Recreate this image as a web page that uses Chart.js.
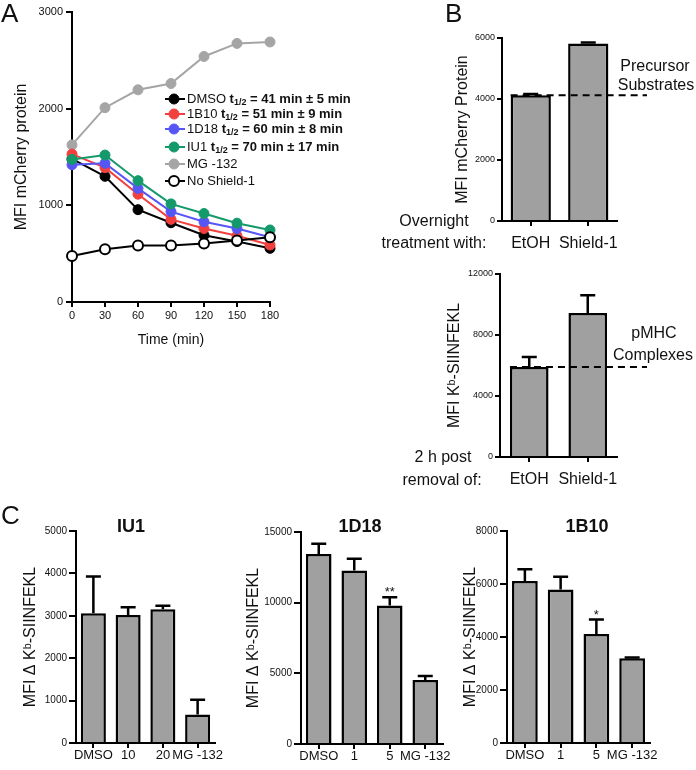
<!DOCTYPE html>
<html>
<head>
<meta charset="utf-8">
<script src="https://cdn.jsdelivr.net/npm/chart.js@4.4.1/dist/chart.umd.min.js"></script>
<style>
  body { margin: 0; background: #fff; }
  #fig { position: relative; width: 696px; height: 770px; overflow: hidden;
         font-family: Arial, "Liberation Sans", sans-serif; color: #111; }
  canvas, .lbl { position: absolute; }
  .lbl { white-space: nowrap; line-height: 1; }
  .panel { font-size: 26px; }
  .note { font-size: 16px; transform: translate(-50%, -50%); }
  .ttl { font-size: 18px; font-weight: bold; transform: translate(-50%, -50%); }
</style>
</head>
<body>
<div id="fig">
  <canvas id="chartA" width="360" height="355" style="left:0;top:0"></canvas>
  <canvas id="chartB1" width="316" height="260" style="left:380px;top:0"></canvas>
  <canvas id="chartB2" width="316" height="250" style="left:380px;top:250px"></canvas>
  <canvas id="chartC1" width="235" height="280" style="left:0;top:490px"></canvas>
  <canvas id="chartC2" width="232" height="280" style="left:231px;top:490px"></canvas>
  <canvas id="chartC3" width="236" height="280" style="left:460px;top:490px"></canvas>

  <div class="lbl panel" style="left:1px;top:0">A</div>
  <div class="lbl panel" style="left:445px;top:0">B</div>
  <div class="lbl panel" style="left:1px;top:502px">C</div>

  <div class="lbl note" style="left:655px;top:66px">Precursor</div>
  <div class="lbl note" style="left:656px;top:85px">Substrates</div>
  <div class="lbl note" style="left:434px;top:221px">Overnight</div>
  <div class="lbl note" style="left:434px;top:243px">treatment with:</div>
  <div class="lbl note" style="left:654px;top:333px">pMHC</div>
  <div class="lbl note" style="left:653px;top:355px">Complexes</div>
  <div class="lbl note" style="left:443px;top:457px">2 h post</div>
  <div class="lbl note" style="left:442px;top:480px">removal of:</div>

  <div class="lbl ttl" style="left:131px;top:526px">IU1</div>
  <div class="lbl ttl" style="left:360px;top:526px">1D18</div>
  <div class="lbl ttl" style="left:587px;top:526px">1B10</div>
</div>

<script>
// ---- data ----
const timePoints = [0, 30, 60, 90, 120, 150, 180];
const dmsoDecay = [1480, 1300, 955, 820, 690, 625, 555];
const b10Decay = [1530, 1390, 1115, 855, 760, 685, 590];
const d18Decay = [1420, 1435, 1175, 935, 830, 760, 670];
const iu1Decay = [1475, 1520, 1255, 1015, 915, 815, 745];
const mg132Decay = [1625, 2010, 2195, 2260, 2540, 2675, 2690];
const noShieldDecay = [475, 545, 585, 585, 605, 635, 670];
const decayNames = ['DMSO', '1B10', '1D18', 'IU1', 'MG -132', 'No Shield-1'];
const halfLives = ['41 min ± 5 min', '51 min ± 9 min', '60 min ± 8 min', '70 min ± 17 min', null, null];

const shieldGroups = ['EtOH', 'Shield-1'];
const precursorMean = [4120, 5820];
const precursorErr = [40, 30];
const pmhcMean = [5900, 9450];
const pmhcErr = [650, 1150];

const iu1Labels = ['DMSO', '10', '20', 'MG -132'];
const iu1Mean = [3060, 3020, 3155, 670];
const iu1Err = [865, 180, 80, 350];
const d18Labels = ['DMSO', '1', '5', 'MG -132'];
const d18Mean = [13440, 12280, 9800, 4535];
const d18Err = [730, 830, 590, 285];
const d18Stars = ['', '', '**', ''];
const b10Labels = ['DMSO', '1', '5', 'MG -132'];
const b10Mean = [6110, 5790, 4110, 3200];
const b10Err = [450, 480, 550, 30];
const b10Stars = ['', '', '*', ''];

const FONT = 'Arial, "Liberation Sans", sans-serif';
const INK = '#111';
const BAR_GRAY = '#a0a0a0';

function axisStyle(tickLen) {
  return {
    border: { display: true, color: '#000', width: 2 },
    grid: { display: true, drawOnChartArea: false, drawTicks: true, tickLength: tickLen,
            color: '#000', lineWidth: 2, offset: false }
  };
}

// error bars (one sided), significance stars and dashed reference line
const errorBars = {
  id: 'errorBars',
  afterDatasetsDraw(chart) {
    const { ctx, chartArea } = chart;
    const y = chart.scales.y;
    const ds = chart.data.datasets[0];
    const meta = chart.getDatasetMeta(0);
    ctx.save();
    ctx.strokeStyle = '#000';
    ctx.lineWidth = 2.5;
    meta.data.forEach((bar, i) => {
      const top = y.getPixelForValue(ds.data[i] + ds.errors[i]);
      ctx.beginPath();
      ctx.moveTo(bar.x, bar.y);
      ctx.lineTo(bar.x, top);
      ctx.moveTo(bar.x - 7.5, top);
      ctx.lineTo(bar.x + 7.5, top);
      ctx.stroke();
      if (ds.stars && ds.stars[i]) {
        ctx.fillStyle = INK;
        ctx.font = '13px ' + FONT;
        ctx.textAlign = 'center';
        ctx.textBaseline = 'alphabetic';
        ctx.fillText(ds.stars[i], bar.x, top - 1);
      }
    });
    if (ds.refLine != null) {
      const b0 = meta.data[0];
      const ry = y.getPixelForValue(ds.refLine);
      ctx.setLineDash([7, 5]);
      ctx.lineWidth = 2;
      ctx.beginPath();
      ctx.moveTo(b0.x - b0.width / 2, ry);
      ctx.lineTo(chartArea.right + 30, ry);
      ctx.stroke();
    }
    ctx.restore();
  }
};

function barChart(id, labels, means, errors, o) {
  return new Chart(document.getElementById(id), {
    type: 'bar',
    data: {
      labels,
      datasets: [{
        data: means, errors, stars: o.stars, refLine: o.refLine,
        backgroundColor: BAR_GRAY, borderColor: '#000', borderWidth: 2.5,
        categoryPercentage: 1, barPercentage: o.barPct
      }]
    },
    options: {
      responsive: false, animation: false, devicePixelRatio: 1,
      layout: { padding: o.pad },
      plugins: { legend: { display: false }, tooltip: { enabled: false } },
      scales: {
        x: {
          ...axisStyle(5),
          ticks: { font: { family: FONT, size: o.xFont }, color: INK, padding: o.xPad, maxRotation: 0, autoSkip: false },
          afterFit: s => { s.height = o.xHeight; }
        },
        y: {
          min: 0, max: o.yMax,
          ...axisStyle(o.yTick),
          ticks: { stepSize: o.yStep, font: { family: FONT, size: o.yFont }, color: INK, padding: 2,
                   callback: v => String(v) },
          title: { display: true, text: o.yTitle, color: INK, font: { family: FONT, size: 16 },
                   padding: { top: o.titlePad, bottom: 0 } },
          afterFit: s => { s.width = o.yWidth; }
        }
      }
    },
    plugins: [errorBars]
  });
}

// ---- panel A legend with subscripts ----
const decayLegend = {
  id: 'decayLegend',
  afterDraw(chart) {
    const { ctx } = chart;
    const rowY = [99, 114, 129, 147, 164, 181];
    chart.data.datasets.forEach((ds, i) => {
      const y = rowY[i];
      ctx.save();
      ctx.strokeStyle = ds.borderColor;
      ctx.lineWidth = 2;
      ctx.beginPath(); ctx.moveTo(165, y); ctx.lineTo(185, y); ctx.stroke();
      ctx.beginPath(); ctx.arc(174, y, 5, 0, Math.PI * 2);
      ctx.fillStyle = ds.pointBackgroundColor; ctx.fill();
      ctx.lineWidth = ds.pointBorderWidth; ctx.strokeStyle = ds.borderColor; ctx.stroke();
      ctx.fillStyle = INK;
      ctx.textBaseline = 'middle';
      let x = 187;
      ctx.font = '13px ' + FONT;
      ctx.fillText(ds.label, x, y);
      if (ds.halfLife) {
        x += ctx.measureText(ds.label + ' ').width;
        ctx.font = 'bold 13px ' + FONT;
        ctx.fillText('t', x, y); x += ctx.measureText('t').width;
        ctx.font = 'bold 9px ' + FONT;
        ctx.fillText('1/2', x, y + 4); x += ctx.measureText('1/2').width;
        ctx.font = 'bold 13px ' + FONT;
        ctx.fillText(' = ' + ds.halfLife, x, y);
      }
      ctx.restore();
    });
  }
};

function decaySet(i, values, color, fill, drawOrder) {
  return {
    label: decayNames[i], halfLife: halfLives[i],
    data: timePoints.map((t, k) => ({ x: t, y: values[k] })),
    borderColor: color, backgroundColor: color, borderWidth: 2,
    pointBackgroundColor: fill, pointBorderColor: color, pointBorderWidth: fill === '#fff' ? 2 : 1,
    pointRadius: 5, pointHoverRadius: 5, tension: 0, clip: false, order: drawOrder
  };
}

new Chart(document.getElementById('chartA'), {
  type: 'line',
  data: {
    datasets: [
      decaySet(0, dmsoDecay, '#000', '#000', 4),
      decaySet(1, b10Decay, '#f2403f', '#f2403f', 3),
      decaySet(2, d18Decay, '#5656f5', '#5656f5', 2),
      decaySet(3, iu1Decay, '#14996b', '#14996b', 1),
      decaySet(4, mg132Decay, '#a5a5a5', '#a5a5a5', 5),
      decaySet(5, noShieldDecay, '#000', '#fff', 0)
    ]
  },
  options: {
    responsive: false, animation: false, devicePixelRatio: 1,
    layout: { padding: { top: 12, right: 90, bottom: 0, left: 0 } },
    plugins: { legend: { display: false }, tooltip: { enabled: false } },
    scales: {
      x: {
        type: 'linear', min: 0, max: 180,
        ...axisStyle(5),
        ticks: { stepSize: 30, font: { family: FONT, size: 11 }, color: INK, padding: 2 },
        title: { display: true, text: 'Time (min)', color: INK, font: { family: FONT, size: 14 },
                 padding: { top: 0, bottom: 6 } },
        afterFit: s => { s.height = 53; }
      },
      y: {
        min: 0, max: 3000,
        ...axisStyle(6),
        ticks: { stepSize: 1000, font: { family: FONT, size: 11 }, color: INK, padding: 3,
                 callback: v => String(v) },
        title: { display: true, text: 'MFI mCherry protein', color: INK, font: { family: FONT, size: 16 },
                 padding: { top: 12, bottom: 0 } },
        afterFit: s => { s.width = 72; }
      }
    }
  },
  plugins: [decayLegend]
});

// ---- panel B ----
barChart('chartB1', shieldGroups, precursorMean, precursorErr, {
  refLine: precursorMean[0], barPct: 0.7,
  pad: { top: 38, right: 79, bottom: 0, left: 0 },
  xFont: 16, xPad: 8, xHeight: 39,
  yMax: 6000, yStep: 2000, yFont: 9, yTick: 5, yWidth: 122, titlePad: 73,
  yTitle: 'MFI mCherry Protein'
});
barChart('chartB2', shieldGroups, pmhcMean, pmhcErr, {
  refLine: pmhcMean[0], barPct: 0.66,
  pad: { top: 24, right: 79, bottom: 0, left: 0 },
  xFont: 16, xPad: 8, xHeight: 43,
  yMax: 12000, yStep: 4000, yFont: 9, yTick: 5, yWidth: 120, titlePad: 65,
  yTitle: 'MFI Kᵇ-SIINFEKL'
});

// ---- panel C ----
barChart('chartC1', iu1Labels, iu1Mean, iu1Err, {
  barPct: 0.72,
  pad: { top: 41, right: 20, bottom: 0, left: 0 },
  xFont: 13, xPad: 0, xHeight: 27,
  yMax: 5000, yStep: 1000, yFont: 10, yTick: 7, yWidth: 76, titlePad: 21,
  yTitle: 'MFI Δ Kᵇ-SIINFEKL'
});
barChart('chartC2', d18Labels, d18Mean, d18Err, {
  stars: d18Stars, barPct: 0.72,
  pad: { top: 42, right: 20, bottom: 0, left: 0 },
  xFont: 13, xPad: 0, xHeight: 26,
  yMax: 15000, yStep: 5000, yFont: 10, yTick: 7, yWidth: 70, titlePad: 13,
  yTitle: 'MFI Δ Kᵇ-SIINFEKL'
});
barChart('chartC3', b10Labels, b10Mean, b10Err, {
  stars: b10Stars, barPct: 0.72,
  pad: { top: 41, right: 46, bottom: 0, left: 0 },
  xFont: 13, xPad: 0, xHeight: 27,
  yMax: 8000, yStep: 2000, yFont: 10, yTick: 7, yWidth: 47, titlePad: 1,
  yTitle: 'MFI Δ Kᵇ-SIINFEKL'
});
</script>
</body>
</html>
